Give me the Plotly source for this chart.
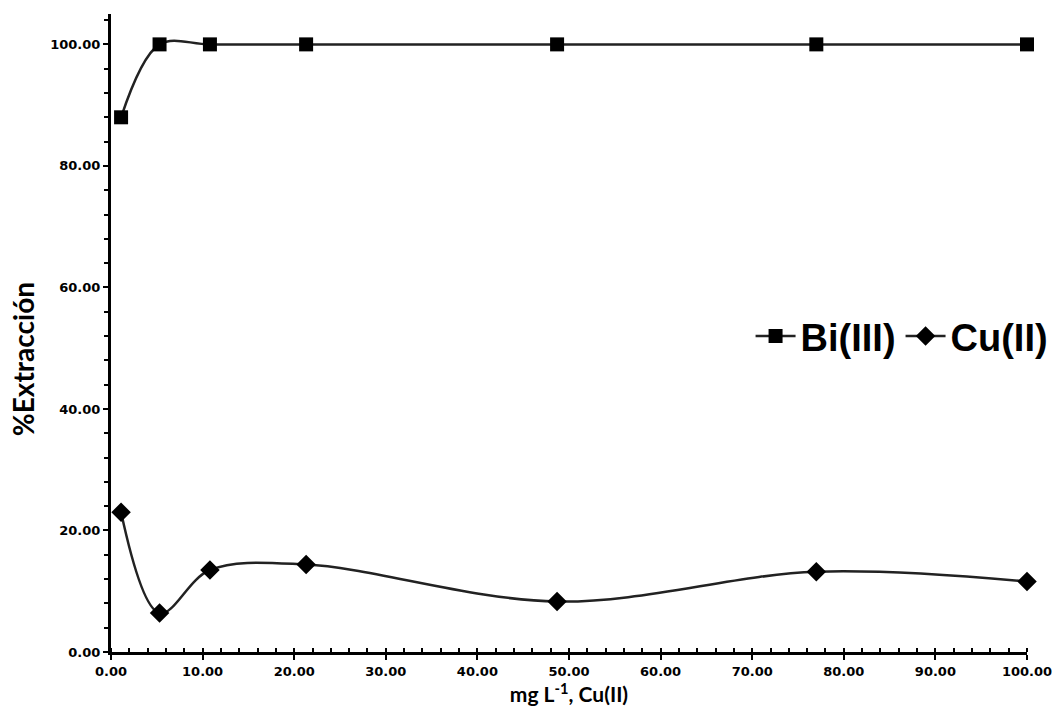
import plotly.graph_objects as go

conc = [1.1, 5.3, 10.8, 21.3, 48.7, 77.0, 100.0]
bi = [88.0, 100.0, 100.0, 100.0, 100.0, 100.0, 100.0]
cu = [23.0, 6.4, 13.5, 14.4, 8.3, 13.2, 11.6]
x_ticks = [0, 10, 20, 30, 40, 50, 60, 70, 80, 90, 100]
y_ticks = [0, 20, 40, 60, 80, 100]

fig = go.Figure()
fig.add_trace(go.Scatter(
    x=conc, y=bi, name="Bi(III)", mode="lines+markers",
    line=dict(color="#222222", width=2.5, shape="spline", smoothing=1.0),
    marker=dict(symbol="square", size=14, color="black"),
    cliponaxis=False,
))
fig.add_trace(go.Scatter(
    x=conc, y=cu, name="Cu(II)", mode="lines+markers",
    line=dict(color="#222222", width=2.5, shape="spline", smoothing=1.0),
    marker=dict(symbol="diamond", size=15, color="black"),
    cliponaxis=False,
))

tickfont = dict(family="DejaVu Sans", size=13, color="black", weight="bold")
fig.update_layout(
    width=1054, height=721,
    margin=dict(l=111, r=27, t=14, b=69, autoexpand=False),
    paper_bgcolor="white", plot_bgcolor="white",
    showlegend=True,
    legend=dict(orientation="h", x=1.029, xanchor="right", y=0.495, yanchor="middle",
                font=dict(family="Liberation Sans", size=38, color="black", weight="bold"),
                bgcolor="rgba(0,0,0,0)", itemwidth=40, tracegroupgap=0),
    xaxis=dict(range=[0, 100], tickvals=x_ticks, tickformat=".2f", tickfont=tickfont,
               showline=True, linecolor="black", linewidth=3, showgrid=False, zeroline=False,
               ticks="outside", ticklen=5, tickwidth=2, tickcolor="black",
               minor=dict(dtick=2, ticks="inside", ticklen=4, tickwidth=2, tickcolor="black"),
               title=dict(text="mg L<sup>-1</sup>, Cu(II)", font=dict(family="Lato", size=21, color="black", weight="bold"), standoff=6)),
    yaxis=dict(range=[0, 105], tickvals=y_ticks, tickformat=".2f", tickfont=tickfont,
               showline=True, linecolor="black", linewidth=3, showgrid=False, zeroline=False,
               ticks="outside", ticklen=5, tickwidth=2, tickcolor="black",
               minor=dict(dtick=4, ticks="outside", ticklen=4, tickwidth=2, tickcolor="black")),
    annotations=[dict(text="%Extracción", textangle=-90, xref="paper", yref="paper",
                      x=-0.096, y=0.459, xanchor="center", yanchor="middle", showarrow=False,
                      font=dict(family="Lato", size=28, color="black", weight="bold"))],
)

fig.write_html("out.html", config={"displayModeBar": False},
               post_script="document.body.style.margin='0';document.body.style.overflow='hidden';")
